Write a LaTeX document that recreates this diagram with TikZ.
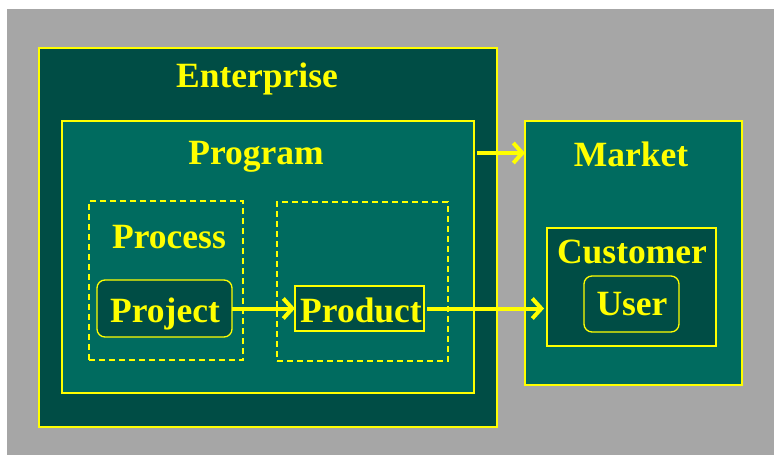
\documentclass[tikz,border=0pt]{standalone}
\usepackage{fontspec}
\setmainfont{Liberation Serif}
\usetikzlibrary{arrows.meta}
\definecolor{bggray}{RGB}{166,166,166}
\definecolor{deepgreen}{RGB}{0,77,69}
\definecolor{tealgreen}{RGB}{0,107,95}
\definecolor{lemon}{RGB}{255,255,0}
\begin{document}
\begin{tikzpicture}[x=1pt,y=-1pt,
  box/.style={draw=lemon, line width=1.3pt, anchor=north west, inner sep=0pt, outer sep=0pt},
  darkbox/.style={box, fill=deepgreen},
  lightbox/.style={box, fill=tealgreen},
  dashbox/.style={box, dash pattern=on 6pt off 4pt},
  roundbox/.style={darkbox, rounded corners=8pt},
  caption/.style={text=lemon, font=\fontsize{35.5}{40}\selectfont\bfseries, anchor=base, inner sep=0pt},
  flow/.style={draw=lemon, line width=4pt, -{Straight Barb[length=9pt,width=20pt]}}]
\useasboundingbox (0,0) rectangle (774,455);
\fill[white] (0,0) rectangle (774,455);
\fill[bggray] (7,9) rectangle (774,455);

% nested containers
\node[darkbox, minimum width=458pt, minimum height=379pt] (Enterprise) at (39,48) {};
\node[lightbox, minimum width=412pt, minimum height=272pt] (Program) at (62,121) {};
\node[dashbox, minimum width=154pt, minimum height=159pt] (Process) at (89,201) {};
\node[dashbox, minimum width=171pt, minimum height=159pt] (ProductArea) at (277,202) {};
\node[roundbox, minimum width=135pt, minimum height=57pt] (Project) at (97,280) {};
\node[darkbox, minimum width=129pt, minimum height=45pt] (Product) at (295,286) {};

\node[lightbox, minimum width=217pt, minimum height=264pt] (Market) at (525,121) {};
\node[darkbox, minimum width=169pt, minimum height=118pt] (Customer) at (547,228) {};
\node[roundbox, minimum width=95pt, minimum height=56pt] (User) at (584,276) {};

% labels
\node[caption] (tEnterprise) at (257,87) {Enterprise};
\node[caption] (tProgram) at (256,164) {Program};
\node[caption] (tProcess) at (169,248) {Process};
\node[caption] (tProject) at (165,322) {Project};
\node[caption] (tProduct) at (361,322) {Product};
\node[caption] (tMarket) at (631,166) {Market};
\node[caption] (tCustomer) at (632,263) {Customer};
\node[caption] (tUser) at (632,315) {User};

% flows
\draw[flow] (Project.east) -- (Product.west);
\draw[flow, shorten <=3pt, shorten >=3pt] (Product.east) -- (Product.east -| Customer.west);
\draw[flow, shorten <=3pt] ([shift={(0,32)}]Program.north east) -- ([shift={(0,32)}]Market.north west);
\end{tikzpicture}
\end{document}
